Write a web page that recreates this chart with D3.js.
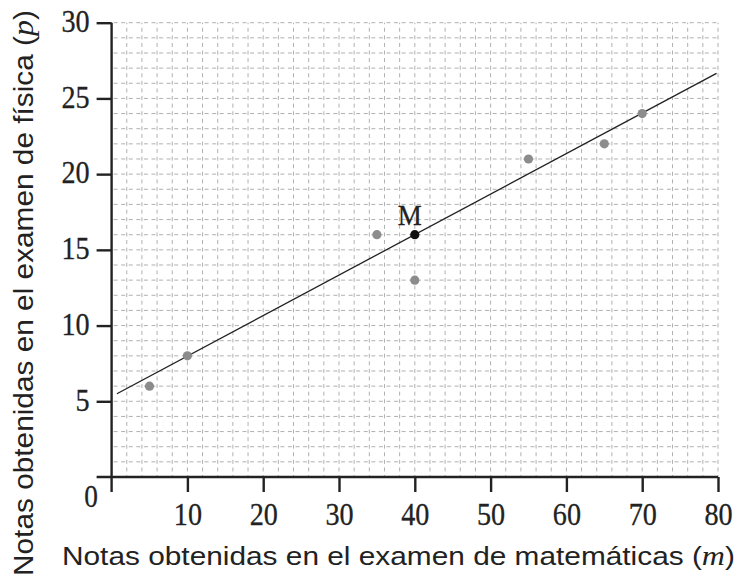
<!DOCTYPE html>
<html><head><meta charset="utf-8">
<script src="https://cdn.jsdelivr.net/npm/d3@7"></script>
<style>body{margin:0;background:#fff}</style>
</head><body>
<svg id="c" width="738" height="576"></svg>
<script>
const mathScores = [5, 10, 35, 40, 55, 65, 70];
const physicsScores = [6, 8, 16, 13, 21, 22, 24];
const meanPoint = {label: "M", x: 40, y: 16};
const fitLineX = [0.7, 79.8];
const fitLineY = [5.5, 26.65];
const xTicks = [10, 20, 30, 40, 50, 60, 70, 80];
const yTicks = [5, 10, 15, 20, 25, 30];
const xTitle = "Notas obtenidas en el examen de matemáticas (";
const yTitle = "Notas obtenidas en el examen de física (";

const svg = d3.select("#c");
const x = d3.scaleLinear().domain([0, 80]).range([111.6, 718]);
const y = d3.scaleLinear().domain([0, 30]).range([477, 22.7]);
const sx = 0.88;

// grid
const grid = svg.append("g").attr("stroke", "#b0b0b0").attr("stroke-width", 1).attr("stroke-dasharray", "4,3.58");
grid.selectAll("line.v").data(d3.range(2, 81, 2)).join("line")
  .attr("x1", d => x(d)).attr("x2", d => x(d)).attr("y1", y(0)).attr("y2", y(30))
  .attr("stroke-dashoffset", 2);
grid.selectAll("line.h").data(d3.range(1, 31, 1)).join("line")
  .attr("y1", d => y(d)).attr("y2", d => y(d)).attr("x1", x(0)).attr("x2", x(80))
  .attr("stroke-dashoffset", -2);

// axes
const serif = "Liberation Serif, Times New Roman, serif";
const sans = "Liberation Sans, Arial, sans-serif";
const xAxis = svg.append("g").attr("transform", `translate(0,${y(0)})`)
  .call(d3.axisBottom(x).tickValues(xTicks).tickSize(15).tickSizeOuter(0));
xAxis.select(".domain").attr("d", `M${x(0) - 15},0H${x(80)}`);
const yAxis = svg.append("g").attr("transform", `translate(${x(0)},0)`)
  .call(d3.axisLeft(y).tickValues(yTicks).tickSize(15).tickSizeOuter(0));
yAxis.select(".domain").attr("d", `M0,${y(30)}V${y(0) + 15}`);
[xAxis, yAxis].forEach(a => {
  a.attr("font-family", null).attr("font-size", null);
  a.selectAll(".domain, .tick line").attr("stroke", "#222").attr("stroke-width", 2.4);
  a.selectAll("text").style("font-family", serif).style("font-size", "32px")
    .attr("fill", "#222").attr("stroke", "#222").attr("stroke-width", 0.3)
    .attr("transform", `scale(${sx},1)`);
});
xAxis.selectAll("text").attr("y", 48).attr("dy", null);
yAxis.selectAll("text").attr("x", -22 / sx).attr("dy", 8.8);
svg.append("text").attr("transform", `translate(91,507) scale(${sx},1)`).attr("text-anchor", "middle")
  .style("font-family", serif).style("font-size", "31px")
  .attr("fill", "#222").attr("stroke", "#222").attr("stroke-width", 0.3).text("0");

// fit line
svg.append("line")
  .attr("x1", x(fitLineX[0])).attr("y1", y(fitLineY[0]))
  .attr("x2", x(fitLineX[1])).attr("y2", y(fitLineY[1]))
  .attr("stroke", "#222").attr("stroke-width", 1.3);

// points
svg.append("g").selectAll("circle").data(mathScores).join("circle")
  .attr("cx", d => x(d)).attr("cy", (d, i) => y(physicsScores[i])).attr("r", 4.6)
  .attr("fill", "#8c8c8c");
svg.append("circle").attr("cx", x(meanPoint.x)).attr("cy", y(meanPoint.y)).attr("r", 4.6).attr("fill", "#111");
svg.append("text").attr("transform", `translate(${x(meanPoint.x) - 5},${y(meanPoint.y) - 10}) scale(0.9,1)`)
  .attr("text-anchor", "middle").style("font-family", serif).style("font-size", "30px")
  .attr("fill", "#222").attr("stroke", "#222").attr("stroke-width", 0.3)
  .text(meanPoint.label);

// titles
const xt = svg.append("text").attr("x", 62).attr("y", 565)
  .attr("textLength", 673).attr("lengthAdjust", "spacingAndGlyphs")
  .style("font-family", sans).style("font-size", "26px").attr("fill", "#222");
xt.append("tspan").text(xTitle);
xt.append("tspan").style("font-family", serif).style("font-style", "italic").style("font-size", "28px").text("m");
xt.append("tspan").text(")");
const yt = svg.append("text").attr("transform", "translate(33,576) rotate(-90)")
  .attr("textLength", 566).attr("lengthAdjust", "spacingAndGlyphs")
  .style("font-family", sans).style("font-size", "27px").attr("fill", "#222");
yt.append("tspan").text(yTitle);
yt.append("tspan").style("font-family", serif).style("font-style", "italic").style("font-size", "29px").text("p");
yt.append("tspan").text(")");
</script>
</body></html>
